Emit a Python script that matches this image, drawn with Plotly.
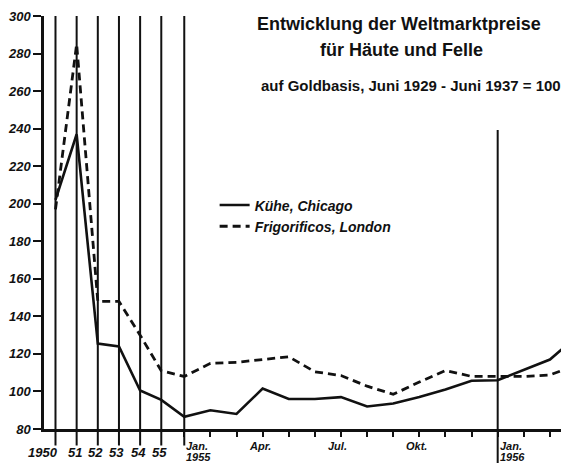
import plotly.graph_objects as go

# ---------------- data ----------------
years = [1950, 1951, 1952, 1953, 1954, 1955]
year_labels = ["1950", "51", "52", "53", "54", "55"]
kuehe_year = [202, 237, 125.5, 124, 100.5, 95.5]
frig_year = [197, 285, 148, 148, 130, 111]

months = ["Jan. 1955", "Feb.", "Mär.", "Apr.", "Mai", "Jun.", "Jul.", "Aug.", "Sep.",
          "Okt.", "Nov.", "Dez.", "Jan. 1956", "Feb.", "Mär.", "Apr."]
kuehe_month = [86.5, 90, 88, 101.5, 96, 96, 97, 92, 93.6, 97, 101, 105.7, 106, 111.5, 117, 129]
frig_month = [108, 115, 115.5, 117, 118.5, 110.5, 108.5, 102.8, 98.5, 105, 111.2, 108, 108, 108, 108.8, 114]

month_tick_labels = {0: ("Jan.", "1955"), 3: ("Apr.", ""), 6: ("Jul.", ""),
                     9: ("Okt.", ""), 12: ("Jan.", "1956"), 15: ("Apr.", "")}
y_ticks = [80, 100, 120, 140, 160, 180, 200, 220, 240, 260, 280, 300]

# ---------------- layout helpers ----------------
YEAR_STEP = 0.81    # width of one year (in month units) in the compressed annual part
YEAR_OFFSET = 0.88  # distance of the 1955 annual point before Jan 1955
x_year = [-(years[-1] - y) * YEAR_STEP - YEAR_OFFSET for y in years]
x_month = list(range(len(months)))
x_all = x_year + x_month

X_RANGE = [-5.37, 14.73]
FONT = "Liberation Sans"
ink = "#111111"

fig = go.Figure()
fig.add_trace(go.Scatter(
    x=x_all, y=kuehe_year + kuehe_month, mode="lines", name="Kühe, Chicago",
    line=dict(color=ink, width=2.6)))
fig.add_trace(go.Scatter(
    x=x_all, y=frig_year + frig_month, mode="lines", name="Frigorificos, London",
    line=dict(color=ink, width=2.8, dash="8px,5px")))

shapes = []
for xv in x_year + [0]:
    shapes.append(dict(type="line", xref="x", yref="paper", x0=xv, x1=xv,
                       y0=-0.04, y1=1.0, line=dict(color=ink, width=2)))
shapes.append(dict(type="line", xref="x", yref="paper", x0=12, x1=12,
                   y0=-0.09, y1=0.724, line=dict(color=ink, width=2)))

annotations = []
tick_font = dict(family=FONT, size=13, color=ink, style="italic", weight="bold")
for i, (xv, lab) in enumerate(zip(x_year, year_labels)):
    annotations.append(dict(x=xv, y=-0.056, xref="x", yref="paper", text=lab,
                            showarrow=False, xanchor="right" if i == 0 else "center",
                            xshift=5 if i == 0 else -2, yanchor="middle", font=tick_font))
mfont = dict(family=FONT, size=11, color=ink, style="italic", weight="bold")
span = X_RANGE[1] - X_RANGE[0]
for idx, (l1, l2) in month_tick_labels.items():
    left = l1 == "Jan."
    # positions beyond the axis range go through paper coordinates so they are still drawn
    if X_RANGE[0] <= idx <= X_RANGE[1]:
        xa, xr = idx, "x"
    else:
        xa, xr = (idx - X_RANGE[0]) / span, "paper"
    annotations.append(dict(x=xa, y=-0.041, xref=xr, yref="paper", text=l1,
                            showarrow=False, xanchor="left" if left else "center",
                            xshift=0 if left else -3, yanchor="middle", font=mfont))
    if l2:
        annotations.append(dict(x=xa, y=-0.068, xref=xr, yref="paper", text=l2,
                                showarrow=False, xanchor="left", yanchor="middle", font=mfont))

title_font = dict(family=FONT, size=18, color=ink, weight="bold")
annotations += [
    dict(x=0.677, y=1.0, xref="paper", yref="paper", text="Entwicklung der Weltmarktpreise",
         showarrow=False, xanchor="center", yanchor="middle", yshift=-8, font=title_font),
    dict(x=0.68, y=1.0, xref="paper", yref="paper", text="für Häute und Felle",
         showarrow=False, xanchor="center", yanchor="middle", yshift=-34, font=title_font),
    dict(x=0.699, y=1.0, xref="paper", yref="paper",
         text="auf Goldbasis, Juni 1929 - Juni 1937 = 100",
         showarrow=False, xanchor="center", yanchor="middle", yshift=-69,
         font=dict(family=FONT, size=15, color=ink, weight="bold")),
]

# the page body has an 8px margin, so the figure is sized/positioned to compensate
fig.update_layout(
    width=561, height=455,
    margin=dict(l=33, r=0, t=8, b=34),
    paper_bgcolor="white", plot_bgcolor="white",
    showlegend=True,
    legend=dict(x=0.325, y=0.58, xanchor="left", yanchor="top",
                bgcolor="rgba(0,0,0,0)", borderwidth=0, tracegroupgap=0,
                font=dict(family=FONT, size=14, color=ink, style="italic", weight="bold")),
    shapes=shapes, annotations=annotations,
    xaxis=dict(range=X_RANGE, showgrid=False, zeroline=False,
               showline=True, linecolor=ink, linewidth=2.5,
               tickmode="array", tickvals=x_month, ticks="outside",
               ticklen=5, tickwidth=1.5, tickcolor=ink, showticklabels=False),
    yaxis=dict(range=[80, 300], showgrid=False, zeroline=False,
               showline=True, linecolor=ink, linewidth=2.5,
               tickmode="array", tickvals=y_ticks, ticks="outside",
               ticklen=8, tickwidth=2, tickcolor=ink,
               tickfont=tick_font),
)

fig.write_html("out.html")
